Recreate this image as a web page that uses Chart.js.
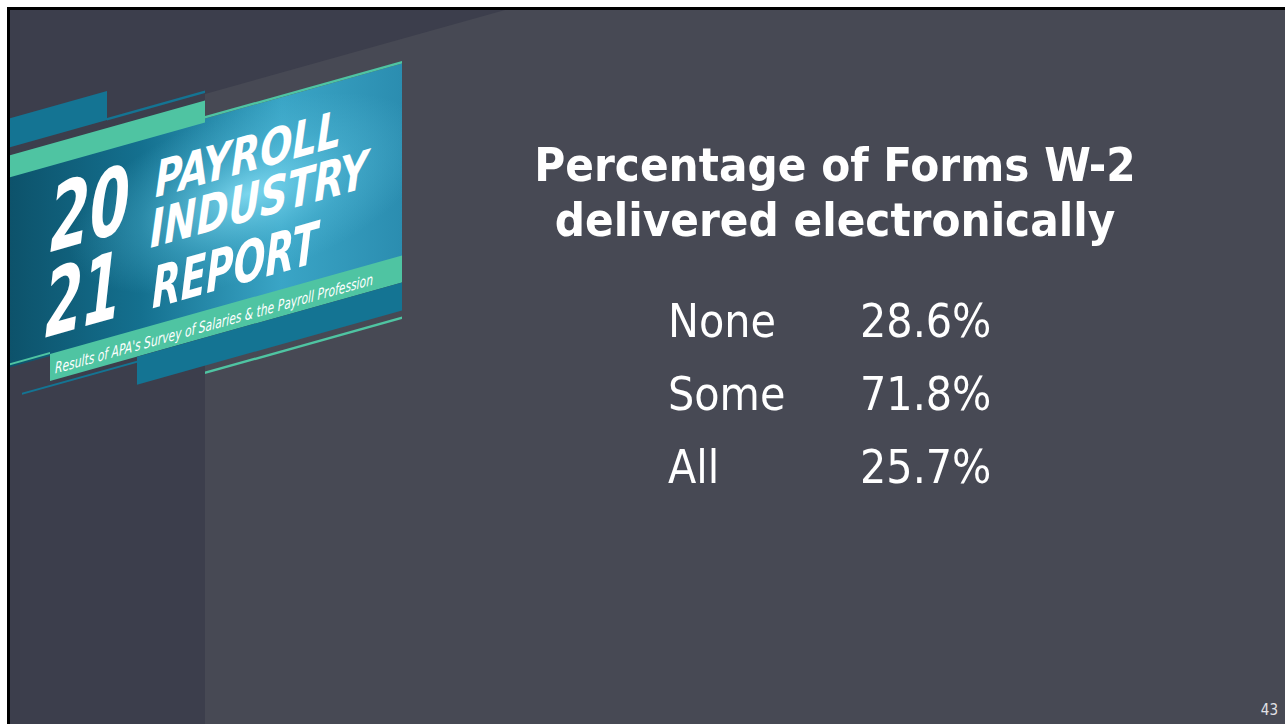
<!DOCTYPE html>
<html>
<head>
<meta charset="utf-8">
<script src="https://cdn.jsdelivr.net/npm/chart.js@4/dist/chart.umd.min.js"></script>
<style>
  html, body { margin: 0; padding: 0; background: #ffffff; }
  body { width: 1285px; height: 724px; position: relative; overflow: hidden; }
  #bg { position: absolute; left: 0; top: 0; }
  #chart { position: absolute; left: 0; top: 120px; }
  #pageNum {
    position: absolute; right: 7px; top: 701px;
    font-family: 'DejaVu Sans Condensed', 'DejaVu Sans', sans-serif;
    font-size: 15px; color: #e2e2e6;
  }
  .logoText { font-family: 'DejaVu Sans Condensed', 'DejaVu Sans', sans-serif; font-style: italic; font-weight: bold; fill: #ffffff; }
  .logoSub { font-family: 'DejaVu Sans Condensed', 'DejaVu Sans', sans-serif; font-style: italic; font-weight: normal; fill: #ffffff; }
</style>
</head>
<body>

<svg id="bg" width="1285" height="724" viewBox="0 0 1285 724">
  <defs>
    <linearGradient id="photoBase" x1="0" y1="0" x2="1" y2="0">
      <stop offset="0" stop-color="#0c5068"/>
      <stop offset="0.35" stop-color="#14708f"/>
      <stop offset="0.7" stop-color="#3aa5c6"/>
      <stop offset="1" stop-color="#2b8db0"/>
    </linearGradient>
    <radialGradient id="photoGlow" cx="0.62" cy="0.45" r="0.45">
      <stop offset="0" stop-color="#8fe6fb" stop-opacity="0.8"/>
      <stop offset="0.6" stop-color="#5cc3e0" stop-opacity="0.3"/>
      <stop offset="1" stop-color="#5cc3e0" stop-opacity="0"/>
    </radialGradient>
    <clipPath id="slideClip"><rect x="10" y="10" width="1275" height="714"/></clipPath>
  </defs>

  <!-- slide frame -->
  <rect x="7" y="7" width="1278" height="717" fill="#000000"/>
  <rect x="10" y="10" width="1275" height="714" fill="#474954"/>
  <polygon points="10,10 505,10 205,94 205,724 10,724" fill="#3c3e4c"/>

  <!-- report logo -->
  <g clip-path="url(#slideClip)">
    <g transform="matrix(1,-0.28,0,1,0,0)">
      <rect x="0" y="121" width="107" height="29" fill="#147493"/>
      <rect x="107" y="148" width="98" height="2.5" fill="#147493"/>
      <rect x="0" y="176" width="402" height="194" fill="url(#photoBase)"/>
      <rect x="0" y="176" width="402" height="194" fill="url(#photoGlow)"/>
      <rect x="205" y="173.5" width="197" height="2.5" fill="#4fc4a2"/>
      <rect x="0" y="158" width="205" height="22" fill="#4fc4a2"/>
      <rect x="0" y="366" width="50" height="2" fill="#4fc4a2"/>
      <rect x="50" y="368" width="352" height="27" fill="#4fc4a2"/>
      <rect x="137" y="395" width="265" height="28" fill="#147493"/>
      <rect x="22" y="399" width="115" height="2" fill="#147493"/>
      <rect x="205" y="429" width="197" height="2.5" fill="#4fc4a2"/>

      <text class="logoText" x="50" y="266" font-size="92" textLength="80" lengthAdjust="spacingAndGlyphs">20</text>
      <text class="logoText" x="45" y="350" font-size="92" textLength="76" lengthAdjust="spacingAndGlyphs">21</text>
      <text class="logoText" x="155" y="241" font-size="50" textLength="186" lengthAdjust="spacingAndGlyphs">PAYROLL</text>
      <text class="logoText" x="150" y="290" font-size="52" textLength="218" lengthAdjust="spacingAndGlyphs">INDUSTRY</text>
      <text class="logoText" x="152" y="351" font-size="57" textLength="166" lengthAdjust="spacingAndGlyphs">REPORT</text>
      <text class="logoSub" x="55" y="389" font-size="15.5" textLength="318" lengthAdjust="spacingAndGlyphs">Results of APA's Survey of Salaries &amp; the Payroll Profession</text>
    </g>
  </g>
</svg>

<canvas id="chart" width="1285" height="388"></canvas>
<div id="pageNum">43</div>

<script>
  // data
  const categories = ['None', 'Some', 'All'];
  const shares = [28.6, 71.8, 25.7];
  const titleLines = ['Percentage of Forms W-2', 'delivered electronically'];

  const fontFamily = "'DejaVu Sans Condensed', 'DejaVu Sans', sans-serif";
  const rowFont = { family: fontFamily, size: 46 };
  const labelX = 668;   // left edge of category column
  const valueX = 860;   // left edge of value column

  // writes each row's label and value at the y scale position of its category
  const rowTextPlugin = {
    id: 'rowText',
    afterDatasetsDraw(chart) {
      const c = chart.ctx;
      const yScale = chart.scales.y;
      c.save();
      c.fillStyle = '#ffffff';
      c.font = Chart.helpers.toFont(rowFont).string;
      c.textAlign = 'left';
      c.textBaseline = 'middle';
      categories.forEach((cat, i) => {
        const y = yScale.getPixelForValue(i);
        c.fillText(cat, labelX, y);
        c.fillText(shares[i].toFixed(1) + '%', valueX, y);
      });
      c.restore();
    }
  };

  const ctx = document.getElementById('chart').getContext('2d');
  new Chart(ctx, {
    type: 'bar',
    data: {
      labels: categories,
      datasets: [{
        label: 'Share',
        data: shares,
        backgroundColor: 'rgba(0,0,0,0)',
        borderWidth: 0
      }]
    },
    options: {
      indexAxis: 'y',
      responsive: false,
      animation: false,
      layout: { padding: { left: 430, right: 45, top: 0, bottom: 0 } },
      plugins: {
        legend: { display: false },
        tooltip: { enabled: false },
        title: {
          display: true,
          text: titleLines,
          color: '#ffffff',
          font: { family: fontFamily, size: 47, weight: 'bold', lineHeight: 1.17 },
          padding: { top: 21, bottom: 38 }
        }
      },
      scales: {
        x: { display: false, min: 0, max: 100 },
        y: { display: false }
      }
    },
    plugins: [rowTextPlugin]
  });
</script>
</body>
</html>
